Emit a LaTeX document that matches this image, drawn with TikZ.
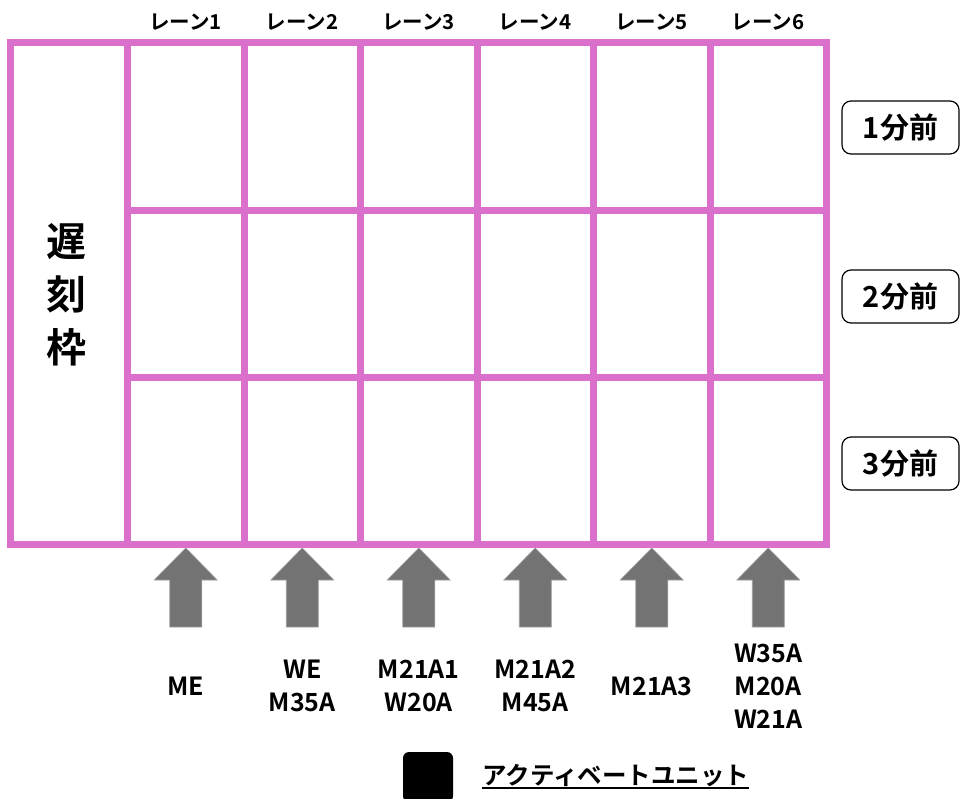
\documentclass[tikz,border=0pt]{standalone}
\usepackage{fontspec}
\setmainfont{Noto Sans CJK JP}[BoldFont={Noto Sans CJK JP Bold}]
\usetikzlibrary{positioning}
\definecolor{orchidline}{RGB}{218, 112, 204}
\definecolor{arrowgray}{RGB}{115, 115, 115}

\begin{document}
\begin{tikzpicture}[x=1pt, y=-1pt,
    gridline/.style={orchidline, line width=7pt},
    lanelabel/.style={font=\bfseries\fontsize{20.5}{20.5}\selectfont, inner sep=0pt},
    timebox/.style={draw, line width=1.2pt, rounded corners=9pt, minimum width=117pt,
                    minimum height=53pt, font=\bfseries\fontsize{29}{29}\selectfont},
    unitlabel/.style={align=center, font=\bfseries\fontsize{25}{33}\selectfont, inner sep=0pt},
    uparrow/.style={fill=arrowgray, draw=arrowgray!70, line width=0.6pt}]
    \useasboundingbox (0,0) rectangle (960,798);
    % Grid
    \draw[gridline] (10,42) rectangle (826.5,544);
    \foreach \x in {127.5, 244, 360.5, 477, 593.5, 710}
        \draw[gridline] (\x,42) -- (\x,544);
    \foreach \y in {210, 377}
        \draw[gridline] (127.5,\y) -- (826.5,\y);
    % Late slot
    \node[align=center, font=\bfseries\fontsize{40}{53}\selectfont, inner sep=0pt]
        (late) at (66,295) {遅\\刻\\枠};
    % Lanes and arrows
    \foreach \i/\units in {1/ME, 2/{WE\\M35A}, 3/{M21A1\\W20A}, 4/{M21A2\\M45A},
                           5/M21A3, 6/{W35A\\M20A\\W21A}} {
        \pgfmathsetmacro{\cx}{127.5+116.5*(\i-0.5)}
        \node[lanelabel] (lane\i) at (\cx,22) {レーン\i};
        \draw[uparrow] (\cx,548) -- (\cx+31.5,580) -- (\cx+16,580) -- (\cx+16,627)
            -- (\cx-16,627) -- (\cx-16,580) -- (\cx-31.5,580) -- cycle;
        \node[unitlabel] (unit\i) at (\cx,686) {\units};
    }
    % Minutes before
    \node[timebox] (min1) at (900.5,127.5) {1分前};
    \node[timebox] (min2) at (900.5,296.5) {2分前};
    \node[timebox] (min3) at (900.5,463.5) {3分前};
    % Legend
    \node[fill=black, rounded corners=6pt, minimum size=50pt, inner sep=0pt] (key) at (428,777) {};
    \node[right=29pt of key, font=\bfseries\fontsize{24.5}{24.5}\selectfont, inner sep=0pt,
          yshift=2pt] (legend) {アクティベートユニット};
    \draw[line width=1.8pt] ([yshift=-4pt]legend.base west) -- ([yshift=-4pt]legend.base east);
\end{tikzpicture}
\end{document}
